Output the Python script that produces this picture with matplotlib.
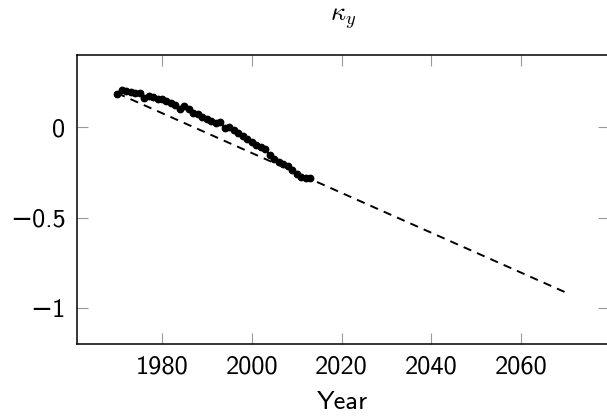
import matplotlib
matplotlib.use('Agg')
import matplotlib.pyplot as plt

# kappa_y estimates (dots) and projection (dashed)
years = list(range(1970, 2014))
kappa = [0.187, 0.209, 0.200, 0.196, 0.189, 0.192, 0.166, 0.172, 0.168, 0.160,
         0.155, 0.145, 0.137, 0.126, 0.100, 0.118, 0.102, 0.082, 0.072, 0.060,
         0.048, 0.035, 0.025, 0.033, -0.004, 0.000, -0.015, -0.033, -0.048, -0.062,
         -0.080, -0.098, -0.108, -0.120, -0.155, -0.176, -0.190, -0.205, -0.216, -0.237,
         -0.257, -0.274, -0.278, -0.279]
trend_years = [1970, 2070]
trend_vals = [0.19, -0.915]

plt.rcParams['font.family'] = ['cmss10', 'DejaVu Sans']
plt.rcParams['mathtext.fontset'] = 'cm'
plt.rcParams['lines.scale_dashes'] = False

fig = plt.figure(figsize=(6.07, 4.16), dpi=100)
ax = fig.add_axes([0.1264, 0.1731, 0.877, 0.694])

ax.plot(trend_years, trend_vals, color='k', lw=1.4, dashes=(6, 4.5))
ax.plot(years, kappa, color='k', lw=1.4, marker='o', ms=4.6)

ax.set_xlim(1961, 2079.6)
ax.set_ylim(-1.2, 0.4)
ax.set_xticks([1980, 2000, 2020, 2040, 2060])
ax.set_yticks([-1, -0.5, 0])
ax.set_yticklabels(['\u22121', '\u22120.5', '0'])

for s in ax.spines.values():
    s.set_linewidth(1.1)
ax.tick_params(direction='in', length=8, width=0.8, color='#999999',
               top=True, right=True, labelsize=19, pad=8)

ax.set_xlabel('Year', fontsize=19, labelpad=9)
ax.set_title(r'$\kappa_y$', fontsize=19, pad=25)

fig.savefig('out.png', dpi=100)
